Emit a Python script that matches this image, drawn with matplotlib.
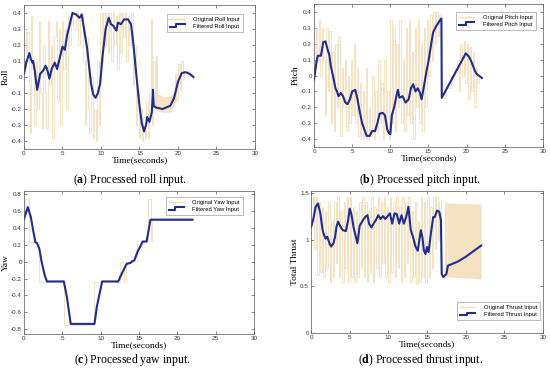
import matplotlib
matplotlib.use("Agg")
import matplotlib.pyplot as plt
from matplotlib.lines import Line2D
from matplotlib.legend_handler import HandlerLine2D

plt.rcParams["mathtext.fontset"] = "custom"
plt.rcParams["mathtext.bf"] = "Liberation Serif:bold"
plt.rcParams["mathtext.rm"] = "Liberation Serif"

# ---- data ----
roll_t = [0.0, 0.3, 0.7, 0.9, 1.1, 1.2, 1.4, 1.7, 1.8, 2.1, 2.5, 2.8, 3.0, 3.3, 3.6, 4.0, 4.3, 4.6, 4.8,
          5.0, 5.3, 5.6, 5.9, 6.1, 6.3, 6.8, 7.2, 7.5, 7.8, 8.2, 8.5, 8.7, 9.0, 9.3, 9.6, 9.9, 10.2,
          10.6, 11.0, 11.3, 11.6, 12.0, 12.2, 12.6, 13.0, 13.5, 13.9, 14.2, 14.6, 15.0, 15.3, 15.6,
          15.9, 16.0, 16.3, 16.6, 16.75, 16.85, 17.1, 18.0, 19.0, 19.5, 20.0, 20.5, 21.0, 21.5, 22.0]
roll_f = [0.02, 0.09, 0.15, 0.11, 0.09, 0.10, 0.04, -0.08, -0.06, 0.02, 0.04, 0.07, 0.05, -0.01, 0.05,
          0.09, 0.05, 0.11, 0.15, 0.19, 0.17, 0.26, 0.32, 0.36, 0.40, 0.39, 0.37, 0.39, 0.30, 0.18,
          0.05, -0.04, -0.11, -0.13, -0.10, -0.04, 0.13, 0.30, 0.37, 0.33, 0.32, 0.29, 0.34, 0.33,
          0.36, 0.36, 0.33, 0.21, 0.01, -0.18, -0.29, -0.34, -0.29, -0.25, -0.28, -0.22, -0.08,
          -0.18, -0.19, -0.20, -0.18, -0.13, -0.03, 0.025, 0.03, 0.02, 0.0]
roll_orig_t = [0.0, 0.2, 0.4, 0.6, 0.8, 0.95, 1.1, 1.3, 1.5, 1.7, 1.9, 2.1, 2.3, 2.5, 2.7, 2.9, 3.1, 3.3,
               3.5, 3.7, 3.9, 4.1, 4.3, 4.5, 4.7, 4.9, 5.1, 5.3, 5.5, 5.7, 5.9, 6.1, 6.4, 6.7, 7.0,
               7.3, 7.6, 7.9, 8.1, 8.3, 8.5, 8.7, 8.9, 9.1, 9.3, 9.5, 9.7, 9.9, 10.1, 10.3, 10.5,
               10.7, 10.9, 11.1, 11.3, 11.5, 11.7, 11.9, 12.1, 12.3, 12.5, 12.7, 12.9, 13.1, 13.3,
               13.5, 13.7, 13.9, 14.1, 14.3, 14.5, 14.7, 14.9, 15.1, 15.3, 15.5, 15.7, 15.9, 16.1,
               16.3, 16.45, 16.6, 16.8, 17.0, 17.15, 17.3, 19.6, 19.8, 20.0, 20.2, 20.4, 20.6,
               20.8, 21.5, 22.0]
roll_orig = [0.3, 0.15, 0.28, -0.05, -0.35, 0.38, 0.05, -0.3, 0.1, -0.2, 0.35, -0.1, -0.32, 0.2,
             -0.1, -0.32, 0.35, -0.05, 0.2, -0.38, 0.25, 0.35, -0.15, 0.3, -0.3, 0.35, 0.05, 0.3,
             -0.2, 0.38, 0.2, 0.4, 0.3, 0.4, 0.2, 0.4, 0.1, -0.3, 0.25, -0.2, -0.35, 0.0, -0.38,
             -0.2, -0.4, 0.1, -0.3, 0.4, 0.1, 0.4, 0.2, 0.4, 0.15, 0.4, 0.1, 0.4, 0.2, 0.38, 0.05,
             0.4, 0.15, 0.4, 0.25, 0.4, 0.1, 0.38, 0.2, 0.4, -0.05, 0.2, -0.3, -0.1, -0.38, -0.2,
             -0.4, -0.25, -0.38, -0.15, -0.38, -0.1, 0.36, -0.3, 0.1, -0.2, 0.13, -0.15, 0.02,
             -0.15, 0.08, -0.08, 0.1, 0.0, 0.04, 0.02, 0.0]
roll_band_t = [17.2, 18.0, 19.0, 19.6, 20.0]
roll_band_lo = [-0.21, -0.22, -0.22, -0.18, -0.05]
roll_band_hi = [-0.10, -0.12, -0.12, -0.08, 0.05]

pitch_t = [0.0, 0.3, 0.5, 0.9, 1.0, 1.2, 1.5, 1.8, 2.0, 2.2, 2.5, 2.8, 3.0, 3.2, 3.5, 3.8, 4.1, 4.4,
           4.7, 5.0, 5.4, 5.7, 6.0, 6.3, 6.6, 6.9, 7.3, 7.6, 8.0, 8.3, 8.6, 9.0, 9.3, 9.6, 9.8, 10.0,
           10.2, 10.5, 10.8, 11.0, 11.2, 11.6, 12.0, 12.4, 12.7, 13.0, 13.3, 13.6, 13.9, 14.1,
           14.4, 14.7, 15.0, 15.3, 15.6, 16.0, 16.4, 16.7, 16.75, 19.9, 20.3, 20.7, 21.0, 21.3,
           21.6, 22.0]
pitch_f = [-0.025, 0.08, 0.125, 0.125, 0.15, 0.21, 0.215, 0.16, 0.13, 0.06, -0.005, -0.08, -0.10,
           -0.13, -0.11, -0.13, -0.17, -0.18, -0.15, -0.10, -0.09, -0.15, -0.23, -0.30, -0.34,
           -0.38, -0.38, -0.35, -0.35, -0.30, -0.24, -0.235, -0.25, -0.34, -0.36, -0.37, -0.25,
           -0.20, -0.13, -0.09, -0.14, -0.13, -0.17, -0.15, -0.08, -0.055, -0.10, -0.08, -0.11,
           -0.15, -0.07, 0.015, 0.09, 0.18, 0.27, 0.31, 0.34, 0.36, -0.14, 0.14, 0.12, 0.08, 0.04,
           0.01, 0.0, -0.015]
pitch_orig_t = [0.0, 0.2, 0.4, 0.6, 0.8, 1.0, 1.2, 1.4, 1.6, 1.8, 2.0, 2.2, 2.4, 2.6, 2.8, 3.0, 3.2,
                3.4, 3.6, 3.8, 4.0, 4.2, 4.4, 4.6, 4.8, 5.0, 5.2, 5.4, 5.6, 5.8, 6.0, 6.2, 6.4, 6.6,
                6.8, 7.0, 7.2, 7.4, 7.6, 7.8, 8.0, 8.2, 8.4, 8.6, 8.8, 9.0, 9.2, 9.4, 9.6, 9.8,
                10.0, 10.2, 10.4, 10.6, 10.8, 11.0, 11.2, 11.4, 11.6, 11.8, 12.0, 12.2, 12.4, 12.6,
                12.8, 13.0, 13.2, 13.4, 13.6, 13.8, 14.0, 14.2, 14.4, 14.6, 14.8, 15.0, 15.2, 15.4,
                15.6, 15.8, 16.0, 16.2, 16.4, 16.7, 17.3, 17.9, 18.4, 18.8, 19.0, 19.2, 19.4, 19.6,
                19.8, 20.0, 20.2, 20.4, 20.6, 20.8, 21.0, 21.2, 21.4, 21.6, 22.0]
pitch_orig = [0.05, 0.3, 0.1, 0.35, 0.0, 0.3, 0.1, -0.25, 0.3, -0.1, 0.28, -0.3, 0.15, -0.35, 0.2,
              -0.2, 0.25, -0.38, 0.05, -0.2, 0.1, -0.35, 0.0, -0.3, 0.1, -0.25, 0.2, -0.3, 0.05,
              -0.38, -0.05, -0.4, -0.1, -0.38, 0.05, -0.4, -0.2, -0.38, 0.0, -0.4, -0.1, -0.35, 0.1,
              -0.3, -0.05, -0.4, 0.1, -0.35, -0.1, -0.4, 0.35, -0.3, 0.3, -0.35, 0.2, -0.2, 0.35,
              -0.3, 0.1, -0.35, 0.3, -0.25, 0.35, -0.3, 0.15, -0.4, 0.3, -0.2, 0.35, -0.3, 0.2,
              -0.35, 0.3, -0.2, 0.35, 0.0, 0.38, 0.1, 0.4, 0.2, 0.4, 0.25, 0.38, -0.14, -0.08, 0.0,
              0.05, 0.1, -0.1, 0.2, 0.0, 0.22, -0.05, 0.2, -0.15, 0.18, -0.1, 0.15, -0.2, 0.05,
              -0.05, 0.0, -0.015]

yaw_t = [0.0, 0.5, 0.9, 1.2, 1.5, 1.7, 2.0, 2.3, 2.7, 3.0, 5.2, 5.6, 6.1, 9.2, 9.5, 10.2, 12.3, 12.8,
         13.4, 13.9, 14.1, 14.4, 14.8, 15.5, 16.0, 16.5, 22.0]
yaw_f = [0.51, 0.65, 0.53, 0.37, 0.23, 0.22, 0.155, 0.0, -0.16, -0.235, -0.235, -0.42, -0.74, -0.74,
         -0.54, -0.235, -0.235, -0.135, -0.025, -0.015, 0.005, 0.015, 0.115, 0.24, 0.24, 0.50, 0.50]
yaw_orig_t = [0.0, 0.15, 0.65, 2.0, 5.2, 9.2, 12.5, 13.0, 13.3, 14.8, 16.2, 16.6, 16.7, 22.0]
yaw_orig = [0.5, 0.75, 0.24, -0.24, -0.75, -0.24, 0.0, -0.24, 0.0, 0.25, 0.75, 0.25, 0.5, 0.5]

thrust_t = [0.0, 0.3, 0.6, 0.9, 1.2, 1.5, 1.7, 1.9, 2.1, 2.4, 2.6, 2.9, 3.1, 3.3, 3.5, 3.8, 4.1, 4.5,
            4.8, 5.0, 5.2, 5.5, 5.8, 6.0, 6.3, 6.7, 7.0, 7.3, 7.5, 7.8, 8.1, 8.4, 8.7, 9.0, 9.3,
            9.6, 9.9, 10.2, 10.5, 10.8, 11.1, 11.4, 11.7, 12.0, 12.3, 12.6, 12.9, 13.2, 13.5, 13.8,
            14.0, 14.2, 14.4, 14.6, 14.8, 15.0, 15.2, 15.5, 15.8, 16.0, 16.3, 16.6, 16.8, 16.9,
            17.1, 17.5, 17.7, 18.0, 19.0, 20.0, 21.0, 22.0]
thrust_f = [1.13, 1.22, 1.35, 1.385, 1.28, 1.10, 1.045, 1.01, 1.03, 0.955, 0.925, 0.96, 1.025, 1.14,
            1.19, 1.14, 1.10, 1.09, 1.205, 1.33, 1.28, 1.13, 1.025, 0.96, 1.15, 1.205, 1.24, 1.26,
            1.17, 1.13, 1.17, 1.21, 1.26, 1.22, 1.25, 1.22, 1.25, 1.28, 1.17, 1.28, 1.27, 1.17,
            1.26, 1.17, 1.24, 1.35, 1.10, 1.025, 0.925, 0.88, 0.99, 1.10, 1.025, 0.88, 0.845, 0.92,
            0.865, 1.065, 1.24, 1.24, 1.31, 1.295, 1.205, 0.63, 0.60, 0.63, 0.72, 0.73, 0.765,
            0.815, 0.875, 0.935]
thrust_orig_t = [0.0, 0.2, 0.4, 0.6, 0.8, 1.0, 1.2, 1.4, 1.6, 1.8, 2.0, 2.2, 2.4, 2.6, 2.8, 3.0, 3.2,
                 3.4, 3.6, 3.8, 4.0, 4.2, 4.4, 4.6, 4.8, 5.0, 5.2, 5.4, 5.6, 5.8, 6.0, 6.2, 6.4,
                 6.6, 6.8, 7.0, 7.2, 7.4, 7.6, 7.8, 8.0, 8.2, 8.4, 8.6, 8.8, 9.0, 9.2, 9.4, 9.6,
                 9.8, 10.0, 10.2, 10.4, 10.6, 10.8, 11.0, 11.2, 11.4, 11.6, 11.8, 12.0, 12.2, 12.4,
                 12.6, 12.8, 13.0, 13.2, 13.4, 13.6, 13.8, 14.0, 14.2, 14.4, 14.6, 14.8, 15.0,
                 15.2, 15.4, 15.6, 15.8, 16.0, 16.2, 16.4, 16.6, 16.8, 17.0, 17.3, 17.5]
thrust_orig = [1.2, 1.45, 0.9, 1.45, 0.62, 1.4, 0.65, 1.35, 0.6, 1.3, 0.7, 1.4, 0.55, 1.2, 0.6, 1.4,
               0.75, 1.45, 0.6, 1.3, 0.55, 1.4, 0.7, 1.45, 0.55, 1.45, 0.6, 1.35, 0.55, 1.3, 0.6,
               1.4, 0.7, 1.45, 0.6, 1.4, 0.55, 1.3, 0.65, 1.45, 0.55, 1.35, 0.7, 1.45, 0.6, 1.4,
               0.75, 1.45, 0.6, 1.35, 0.55, 1.45, 0.65, 1.4, 0.6, 1.45, 0.7, 1.35, 0.55, 1.45, 0.6,
               1.4, 0.75, 1.45, 0.55, 1.3, 0.6, 1.4, 0.52, 1.2, 0.55, 1.45, 0.6, 1.4, 0.55, 1.45,
               0.6, 1.35, 0.7, 1.45, 0.9, 1.45, 1.0, 1.4, 0.65, 0.6, 1.4, 0.62]
thrust_band_t = [17.55, 22.0]
thrust_band_lo = [0.60, 0.58]
thrust_band_hi = [1.39, 1.38]

ORIG = "#f5ddb8"
FILT = "#1f2d8c"


class StepHandler(HandlerLine2D):
    # MATLAB-style stairs glyph in the legend
    def create_artists(self, legend, orig_handle, xdescent, ydescent, width, height, fontsize, trans):
        x0 = -xdescent
        y0 = -ydescent + 0.15 * height
        y1 = -ydescent + 0.85 * height
        xs = [x0, x0 + 0.45 * width, x0 + 0.45 * width, x0 + width]
        ys = [y0, y0, y1, y1]
        line = Line2D(xs, ys, color=orig_handle.get_color(), lw=orig_handle.get_linewidth())
        line.set_transform(trans)
        return [line]


def setup(ax, ylabel, ylim, yticks, ytlabels):
    ax.set_xlim(0, 30)
    ax.set_ylim(*ylim)
    ax.set_xticks([0, 5, 10, 15, 20, 25, 30])
    ax.set_yticks(yticks)
    ax.set_yticklabels(ytlabels)
    ax.tick_params(direction="in", top=True, right=True, length=2, width=0.4,
                   labelsize=4.5, pad=1.5, colors="#333333")
    for lab in ax.get_xticklabels() + ax.get_yticklabels():
        lab.set_family("Liberation Sans")
    for s in ax.spines.values():
        s.set_linewidth(0.5)
        s.set_color("#555555")
    ax.set_xlabel("Time(seconds)", family="Liberation Serif", fontsize=6.8, labelpad=0)
    ax.set_ylabel(ylabel, family="Liberation Serif", fontsize=6.8, labelpad=1)


def add_legend(ax, names, loc, anchor):
    h1 = Line2D([], [], color=ORIG, lw=1.0)
    h2 = Line2D([], [], color=FILT, lw=1.5)
    ax.legend([h1, h2], names, loc=loc, bbox_to_anchor=anchor, borderaxespad=0,
              prop={"family": "Liberation Sans", "size": 4.2}, handlelength=2.6,
              handletextpad=1.5, borderpad=0.5, labelspacing=0.3, fancybox=False,
              framealpha=1, edgecolor="#888888", handler_map={h2: StepHandler()})
    ax.get_legend().get_frame().set_linewidth(0.4)


fig = plt.figure(figsize=(5.5, 3.74), dpi=100)
ax_a = fig.add_axes([0.0436, 0.6016, 0.42, 0.385])
ax_b = fig.add_axes([0.571, 0.607, 0.416, 0.382])
ax_c = fig.add_axes([0.0436, 0.107, 0.418, 0.382])
ax_d = fig.add_axes([0.5655, 0.1096, 0.4218, 0.38])

# (a) roll
ax_a.fill_between(roll_band_t, roll_band_lo, roll_band_hi, color=ORIG, alpha=0.8, lw=0)
ax_a.plot(roll_orig_t, roll_orig, drawstyle="steps-post", color=ORIG, lw=0.6)
ax_a.plot(roll_t, roll_f, color=FILT, lw=1.5)
setup(ax_a, "Roll", (-0.45, 0.45), [-0.4, -0.3, -0.2, -0.1, 0, 0.1, 0.2, 0.3, 0.4],
      ["-0.4", "-0.3", "-0.2", "-0.1", "0", "0.1", "0.2", "0.3", "0.4"])
add_legend(ax_a, ["Original Roll Input", "Filtered Roll Input"], "upper right", (0.948, 0.9375))

# (b) pitch
ax_b.plot(pitch_orig_t, pitch_orig, drawstyle="steps-post", color=ORIG, lw=0.6)
ax_b.plot(pitch_t, pitch_f, color=FILT, lw=1.5)
setup(ax_b, "Pitch", (-0.45, 0.45), [-0.4, -0.3, -0.2, -0.1, 0, 0.1, 0.2, 0.3, 0.4],
      ["-0.4", "-0.3", "-0.2", "-0.1", "0", "0.1", "0.2", "0.3", "0.4"])
add_legend(ax_b, ["Original Pitch Input", "Filtered Pitch Input"], "upper right", (0.969, 0.944))

# (c) yaw
ax_c.plot(yaw_orig_t, yaw_orig, drawstyle="steps-post", color=ORIG, lw=0.6)
ax_c.plot(yaw_t, yaw_f, color=FILT, lw=1.5)
setup(ax_c, "Yaw", (-0.86, 0.84), [-0.8, -0.6, -0.4, -0.2, 0, 0.2, 0.4, 0.6, 0.8],
      ["-0.8", "-0.6", "-0.4", "-0.2", "0", "0.2", "0.4", "0.6", "0.8"])
add_legend(ax_c, ["Original Yaw Input", "Filtered Yaw Input"], "upper right", (0.952, 0.958))

# (d) thrust
ax_d.fill_between(thrust_band_t, thrust_band_lo, thrust_band_hi, color=ORIG, alpha=0.85, lw=0)
ax_d.plot(thrust_orig_t, thrust_orig, drawstyle="steps-post", color=ORIG, lw=0.6)
ax_d.plot(thrust_t, thrust_f, color=FILT, lw=1.5)
setup(ax_d, "Total Thrust", (0, 1.52), [0, 0.5, 1, 1.5], ["0", "0.5", "1", "1.5"])
add_legend(ax_d, ["Original Thrust Input", "Filtered Thrust Input"], "lower right", (0.987, 0.0915))

# captions
caps = [(130, 180, "a", "roll"), (420, 180, "b", "pitch"), (132, 360, "c", "yaw"), (421, 360, "d", "thrust")]
for px, py, letter, word in caps:
    fig.text(px / 550, 1 - py / 374, r"($\mathbf{" + letter + r"}$) Processed " + word + " input.",
             ha="center", va="center", family="Liberation Serif", fontsize=8.5)

fig.savefig("out.png", dpi=100)
